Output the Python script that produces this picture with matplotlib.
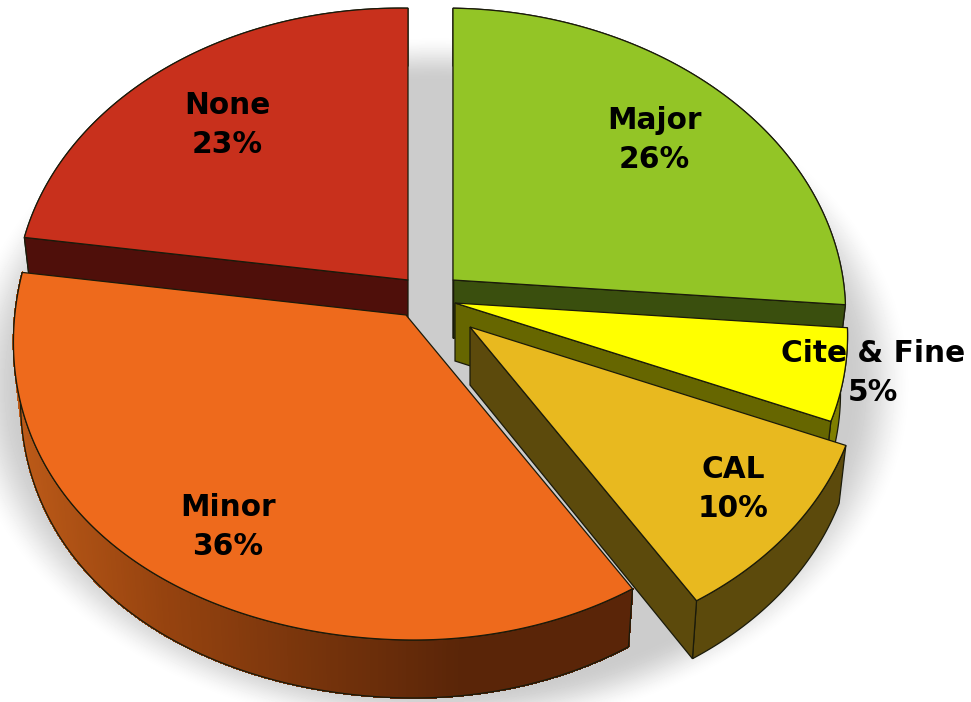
import numpy as np
import matplotlib
matplotlib.use("Agg")
import matplotlib.pyplot as plt
from matplotlib.patches import Polygon
from matplotlib.collections import PolyCollection
from matplotlib.colors import LinearSegmentedColormap

# values, clockwise from twelve o'clock
labels = ["Major", "Cite & Fine", "CAL", "Minor", "None"]
values = [26, 5, 10, 36, 23]

# styles and layout, in image pixels
apex_x = [453, 455, 470, 406, 408]
apex_y = [280, 303, 327, 315, 280]
top_colors = ["#93C526", "#FFFF00", "#E8B91F", "#EE6A1C", "#C8301C"]
cut_colors = ["#3A4F0E", "#666600", "#5C4A0C", "#5E2608", "#4F0F0A"]
rim_colors = ["#3A4F0E", "#7F7F00", "#5C4A0C", "#5E2608", "#4F0F0A"]
label_x = [654, 873, 733, 228, 227]
label_y = [140, 373, 489, 527, 125]
draw_order = [4, 0, 1, 3, 2]

RX, RY = 391, 296
PERSP = 0.089
TILT = 6
DEPTH = 58
SHRINK = 0.982

fig = plt.figure(figsize=(9.71, 7.02), dpi=100)
ax = fig.add_axes([0, 0, 1, 1])
ax.set_xlim(0, 971)
ax.set_ylim(702, 0)
ax.axis("off")

# soft shadow behind the pie
xx, yy = np.meshgrid(np.arange(971), np.arange(702))
dist = np.sqrt(((xx - 435) / 447) ** 2 + ((yy - 385) / 328) ** 2)
fade = np.clip((1.07 - dist) / 0.14, 0, 1)
fade = fade * fade * (3 - 2 * fade)
ax.imshow(1 - 0.2 * fade, cmap="gray", vmin=0, vmax=1, extent=(0, 971, 702, 0), aspect="auto", zorder=0)


def project(deg):
    a = np.radians(deg)
    X, Y = np.sin(a), np.cos(a)
    w = 1 + PERSP * Y
    # the lower left of the reference sags a little
    u = np.clip((deg - 180) / 97, 0, 1)
    return RX * X / w, -RY * Y / w + TILT * X / w + 20 * u * np.sin(np.pi * u)


rim_cmap = LinearSegmentedColormap.from_list("rim", ["#BC5A18", "#96430F", "#77340C", "#5A2508"])
ends = np.cumsum(values) / np.sum(values) * 360
starts = np.concatenate([[0], ends[:-1]])

z = 1
for i in draw_order:
    t = np.linspace(starts[i], ends[i], 240)
    dx, dy = project(t)
    ax_, ay_ = apex_x[i], apex_y[i]
    top = np.column_stack([ax_ + dx, ay_ + dy])
    low = np.column_stack([ax_ + dx * SHRINK, ay_ + dy + DEPTH])
    down = np.array([0, DEPTH])
    ap = np.array([ax_, ay_])

    # outer wall, the orange one shaded in strips
    outline = np.vstack([top, low[::-1]])
    if labels[i] == "Minor":
        quads = [[top[k], top[k + 1], low[k + 1], low[k]] for k in range(len(t) - 1)]
        cols = rim_cmap(np.clip((top[:-1, 0] - top[:, 0].min()) / 450, 0, 1))
        ax.add_collection(PolyCollection(quads, facecolors=cols, edgecolors=cols, linewidths=0.8,
                                         antialiaseds=False, zorder=z))
        ax.add_patch(Polygon(outline, fill=False, ec="#1a1a0a", lw=0.9, zorder=z))
    else:
        ax.add_patch(Polygon(outline, fc=rim_colors[i], ec="#1a1a0a", lw=0.9, zorder=z))
    z += 1

    # only the cut faces turned towards the viewer
    a0, a1 = np.radians(starts[i]), np.radians(ends[i])
    if np.sin(a1) > 1e-9:
        ax.add_patch(Polygon([ap, top[-1], low[-1], ap + down], fc=cut_colors[i], ec="#1a1a0a", lw=0.9, zorder=z))
    if np.sin(a0) <= 1e-9:
        ax.add_patch(Polygon([ap, top[0], low[0], ap + down], fc=cut_colors[i], ec="#1a1a0a", lw=0.9, zorder=z))
    z += 1

    # top face
    ax.add_patch(Polygon(np.vstack([ap, top]), fc=top_colors[i], ec="#1a1a0a", lw=0.9, zorder=z))
    z += 1

for i in range(len(labels)):
    ax.text(label_x[i], label_y[i], labels[i] + "\n" + str(values[i]) + "%", ha="center", va="center",
            fontsize=21.3, fontweight="bold", family="DejaVu Sans", color="black", linespacing=1.42, zorder=z + 1)

fig.savefig("out.png", dpi=100)
